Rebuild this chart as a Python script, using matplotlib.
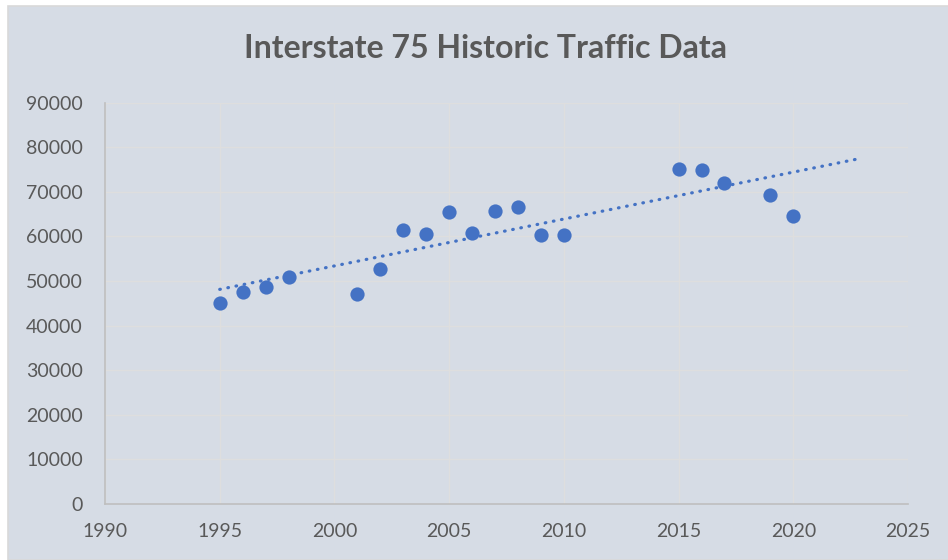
import numpy as np
import matplotlib.pyplot as plt
from matplotlib.patches import Rectangle

# traffic counts
years = [1995, 1996, 1997, 1998, 2001, 2002, 2003, 2004, 2005, 2006,
         2007, 2008, 2009, 2010, 2015, 2016, 2017, 2019, 2020]
traffic = [45000, 47500, 48700, 50800, 47200, 52800, 61400, 60500, 65400, 60800,
           65700, 66700, 60300, 60300, 75200, 74900, 72000, 69300, 64600]
trend_end = 2023
x_ticks = [1990, 1995, 2000, 2005, 2010, 2015, 2020, 2025]
y_ticks = [0, 10000, 20000, 30000, 40000, 50000, 60000, 70000, 80000, 90000]

bg = '#D6DCE5'
blue = '#4472C4'
text_grey = '#595959'

plt.rcParams['font.family'] = ['Lato', 'DejaVu Sans']

fig = plt.figure(figsize=(9.48, 5.6), dpi=100)
fig.patch.set_facecolor('white')
# chart area with a thin border, offset like the screenshot
fig.patches.append(Rectangle((8 / 948, 0), 1, 1 - 6 / 560, transform=fig.transFigure,
                             facecolor=bg, edgecolor='#D9D9D9', linewidth=1.2, zorder=-10))

ax = fig.add_axes([105 / 948, 1 - 504 / 560, (908 - 105) / 948, (504 - 102.7) / 560])
ax.set_facecolor(bg)

# linear trendline, extended forward to 2023
slope, intercept = np.polyfit(years, traffic, 1)
tx = np.array([years[0], trend_end])
ax.plot(tx, slope * tx + intercept, color=blue, linewidth=2.3,
        linestyle=(0, (0.2, 2.4)), dash_capstyle='round', zorder=2)

ax.scatter(years, traffic, s=105, color=blue, zorder=3, linewidths=0)

ax.set_xlim(1990, 2025)
ax.set_ylim(0, 90000)
ax.set_xticks(x_ticks)
ax.set_yticks(y_ticks)
ax.grid(True, color='#DEDEDE', linewidth=1.0)
ax.set_axisbelow(True)

for side in ['top', 'right']:
    ax.spines[side].set_visible(False)
for side in ['left', 'bottom']:
    ax.spines[side].set_color('#BFBFBF')
    ax.spines[side].set_linewidth(1.2)

ax.tick_params(length=0, labelsize=14, labelcolor=text_grey)
ax.tick_params(axis='y', pad=16)
ax.tick_params(axis='x', pad=14)

fig.text(0.512, 1 - 48 / 560, 'Interstate 75 Historic Traffic Data', ha='center', va='center',
         fontsize=23, fontweight='bold', color=text_grey)

fig.savefig('out.png', dpi=100, facecolor=fig.get_facecolor())
